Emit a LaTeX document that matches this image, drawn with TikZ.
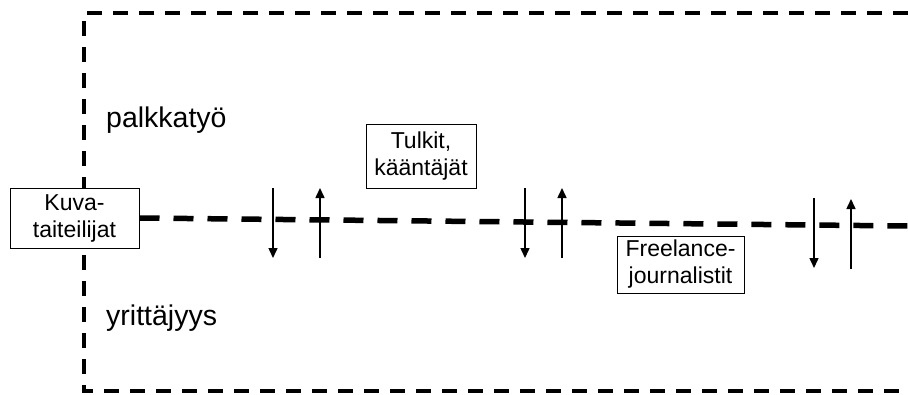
\documentclass[tikz,border=0pt]{standalone}
\usepackage{fontspec}
\setmainfont{Liberation Sans}
\usetikzlibrary{arrows.meta}
\begin{document}
\begin{tikzpicture}[x=1pt,y=-1pt,
  box/.style={draw=black,line width=1pt,fill=white,align=center,inner sep=0pt,
    font=\fontsize{23}{27}\selectfont},
  lbl/.style={anchor=base west,inner sep=0pt,font=\fontsize{28.5}{32}\selectfont},
  frame/.style={line width=3.5pt,dash pattern=on 15pt off 11pt},
  divider/.style={line width=5.5pt,dash pattern=on 20pt off 14pt},
  flow/.style={line width=1.5pt,-{Triangle[width=9pt,length=10pt]}}]
\useasboundingbox (0,0) rectangle (908,394);
% outer frame (open on the right)
\draw[frame] (908,13) -- (84,13) -- (84,391) -- (908,391);
% boxes
\node[box,minimum width=129pt,minimum height=60pt] (kuva) at (74.5,218) {Kuva-\\taiteilijat};
\node[box,minimum width=110pt,minimum height=64pt] (tulkit) at (421,156) {Tulkit,\\kääntäjät};
\node[box,minimum width=127pt,minimum height=57pt] (free) at (680.5,264.5) {Freelance-\\journalistit};
% divider
\coordinate (dend) at (908,226);
\draw[divider] (kuva.east) -- (dend);
% labels
\node[lbl] (palkka) at (106,127) {palkkatyö};
\node[lbl] (yritt) at (106,325) {yrittäjyys};
% arrows
\coordinate (a1t) at (273,188); \coordinate (a1b) at (273,258);
\coordinate (b1t) at (320,188); \coordinate (b1b) at (320,258);
\coordinate (a2t) at (525,188); \coordinate (a2b) at (525,258);
\coordinate (b2t) at (562,188); \coordinate (b2b) at (562,258);
\coordinate (a3t) at (814,198); \coordinate (a3b) at (814,268);
\coordinate (b3t) at (851,199); \coordinate (b3b) at (851,269);
\draw[flow] (a1t) -- (a1b);
\draw[flow] (b1b) -- (b1t);
\draw[flow] (a2t) -- (a2b);
\draw[flow] (b2b) -- (b2t);
\draw[flow] (a3t) -- (a3b);
\draw[flow] (b3b) -- (b3t);
\end{tikzpicture}
\end{document}
